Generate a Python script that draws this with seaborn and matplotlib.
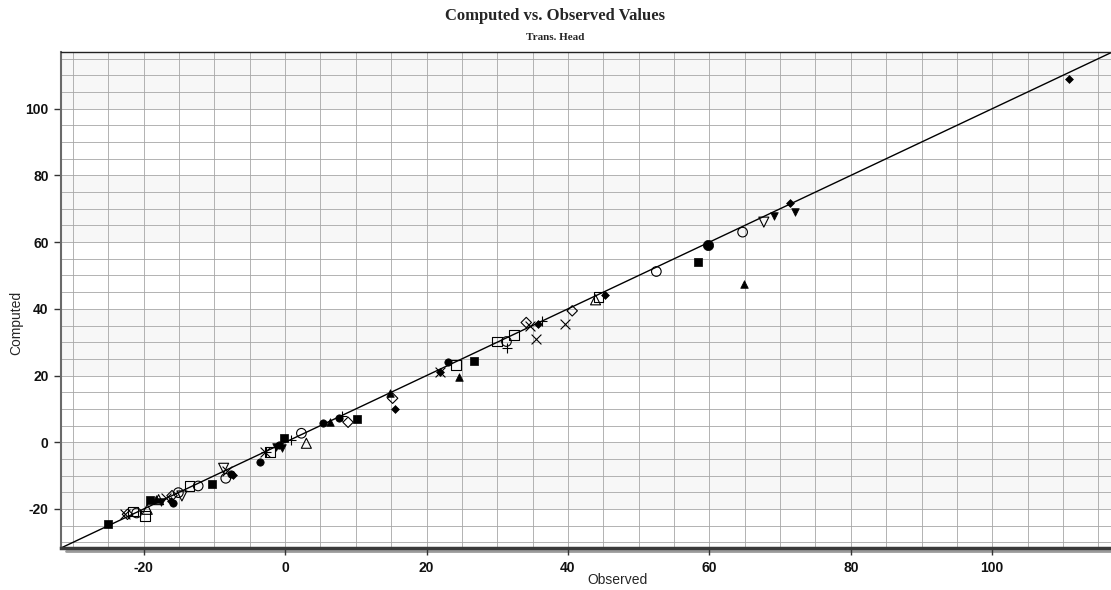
import matplotlib
matplotlib.use("Agg")
import matplotlib.pyplot as plt
from matplotlib.lines import Line2D
import seaborn as sns
import pandas as pd

# ---- data (observed, computed) per symbol group ----
filled_square_obs = [-25.0, -19.1, -10.3, -0.1, 10.1, 26.7, 58.4]
filled_square_cmp = [-24.6, -17.3, -12.6, 1.2, 6.9, 24.4, 53.9]

open_square_obs = [-21.5, -19.8, -13.5, -2.1, 24.2, 30.0, 32.4, 44.3]
open_square_cmp = [-20.8, -22.1, -13.1, -3.0, 23.2, 30.2, 32.2, 43.6]

filled_circle_obs = [-15.8, -7.6, -3.5, -0.9, 5.4, 7.6, 23.1]
filled_circle_cmp = [-18.1, -9.5, -6.0, -0.8, 5.9, 7.2, 24.2]

big_circle_obs = [59.8]
big_circle_cmp = [59.2]

open_circle_obs = [-21.0, -15.1, -12.3, -8.4, 2.3, 31.3, 52.5, 64.7]
open_circle_cmp = [-21.2, -15.1, -13.1, -10.8, 2.7, 30.2, 51.2, 63.0]

filled_tri_obs = [-18.3, 6.4, 14.9, 24.6, 64.9]
filled_tri_cmp = [-16.9, 6.2, 14.9, 19.7, 47.5]

open_tri_obs = [-19.5, -17.9, 3.0, 43.9]
open_tri_cmp = [-20.1, -17.2, -0.3, 42.7]

filled_down_obs = [-17.6, -1.3, -0.5, 69.1, 72.1]
filled_down_cmp = [-17.8, -1.3, -1.6, 67.7, 69.1]

open_down_obs = [-14.6, -8.7, 67.7]
open_down_cmp = [-16.1, -7.8, 66.0]

filled_diam_obs = [-7.4, 15.5, 21.9, 35.7, 45.2, 71.4, 110.8, -16.2]
filled_diam_cmp = [-9.8, 10.0, 21.0, 35.4, 44.1, 71.8, 108.8, -17.6]

open_diam_obs = [-22.3, -16.0, 8.9, 15.2, 34.1, 40.6]
open_diam_cmp = [-21.6, -16.0, 6.0, 13.2, 35.9, 39.4]

cross_obs = [-22.6, -8.2, -2.9, 21.9, 34.7, 35.5, 39.6, -16.8]
cross_cmp = [-21.6, -8.6, -3.0, 21.0, 34.8, 31.0, 35.4, -16.6]

plus_obs = [0.8, 8.0, 31.4, 36.3, -2.75]
plus_cmp = [0.7, 8.0, 28.2, 36.5, -3.0]

x_ticks = [-20, 0, 20, 40, 60, 80, 100]
y_ticks = [-20, 0, 20, 40, 60, 80, 100]
axis_min, x_max, y_max = -31.7, 116.8, 117.0

sns.set_style("white")
plt.rcParams['font.family'] = ['Liberation Sans', 'DejaVu Sans']

fig = plt.figure(figsize=(11.11, 5.90), dpi=100)
ax = fig.add_axes([61 / 1111, 1 - 548 / 590, 1 - 61 / 1111, (548 - 52) / 590])

# interlaced background bands
for lo in range(-20, 120, 40):
    ax.axhspan(lo, lo + 20, color='#f7f7f7', zorder=0, lw=0)

# grid every 5 units
for v in range(-30, 120, 5):
    ax.axvline(v, color='#a6a6a6', lw=0.6, zorder=1)
    ax.axhline(v, color='#a6a6a6', lw=0.6, zorder=1)

# 1:1 line
ax.plot([axis_min, 125], [axis_min, 125], color='black', lw=1.0, zorder=2)

groups = [
    (filled_square_obs, filled_square_cmp, 's', True, 26),
    (open_square_obs, open_square_cmp, 's', False, 48),
    (filled_circle_obs, filled_circle_cmp, 'o', True, 28),
    (big_circle_obs, big_circle_cmp, 'o', True, 55),
    (open_circle_obs, open_circle_cmp, 'o', False, 48),
    (filled_tri_obs, filled_tri_cmp, '^', True, 30),
    (open_tri_obs, open_tri_cmp, '^', False, 52),
    (filled_down_obs, filled_down_cmp, 'v', True, 30),
    (open_down_obs, open_down_cmp, 'v', False, 52),
    (filled_diam_obs, filled_diam_cmp, 'D', True, 16),
    (open_diam_obs, open_diam_cmp, 'D', False, 28),
    (cross_obs, cross_cmp, 'x', None, 50),
    (plus_obs, plus_cmp, '+', None, 55),
]
for obs, cmp_, mk, filled, size in groups:
    df = pd.DataFrame({'Observed': obs, 'Computed': cmp_})
    if filled is True:
        sns.scatterplot(data=df, x='Observed', y='Computed', ax=ax, marker=mk,
                        s=size, color='black', edgecolor='black', linewidth=0.5,
                        zorder=3, legend=False)
    elif filled is False:
        sns.scatterplot(data=df, x='Observed', y='Computed', ax=ax, marker=mk,
                        s=size, facecolors='none', edgecolors='black',
                        linewidth=0.8, zorder=3, legend=False)
    else:
        sns.scatterplot(data=df, x='Observed', y='Computed', ax=ax, marker=mk,
                        s=size, color='black', linewidth=0.8, zorder=3, legend=False)

ax.set_xlim(axis_min, x_max)
ax.set_ylim(axis_min, y_max)
ax.set_xticks(x_ticks)
ax.set_yticks(y_ticks)
ax.set_xticklabels([str(t) for t in x_ticks], fontweight='bold', fontsize=10)
ax.set_yticklabels([str(t) for t in y_ticks], fontweight='bold', fontsize=10)
ax.tick_params(axis='both', direction='out', length=5, width=1, color='#333333',
               pad=4, labelcolor='#111111')
ax.tick_params(axis='x', bottom=True)
ax.tick_params(axis='y', left=True)

ax.set_xlabel('')
ax.set_ylabel('')
fig.text(617 / 1111, 1 - 580 / 590, 'Observed', ha='center', va='center', fontsize=10)
fig.text(16 / 1111, 1 - 323 / 590, 'Computed', ha='center', va='center',
         fontsize=10, rotation=90)

ax.spines['right'].set_visible(False)
ax.spines['top'].set_visible(True)
ax.spines['top'].set_color('#222222')
ax.spines['top'].set_linewidth(1.0)
ax.spines['left'].set_visible(True)
ax.spines['left'].set_color('#6a6a6a')
ax.spines['left'].set_linewidth(1.5)
ax.spines['bottom'].set_visible(True)
ax.spines['bottom'].set_color('#3a3a3a')
ax.spines['bottom'].set_linewidth(2.5)

# axis shadow below the bottom axis
shadow = Line2D([0.005, 1.0], [-0.006, -0.006], transform=ax.transAxes,
                color='#9a9a9a', lw=2.0, clip_on=False, zorder=0)
ax.add_line(shadow)

fig.text(555 / 1111, 1 - 16 / 590, 'Computed vs. Observed Values',
         ha='center', va='center', fontsize=12, fontweight='bold',
         family=['Liberation Serif', 'DejaVu Serif'])
fig.text(555 / 1111, 1 - 37 / 590, 'Trans. Head',
         ha='center', va='center', fontsize=8, fontweight='bold',
         family=['Liberation Serif', 'DejaVu Serif'])

fig.savefig('out.png', dpi=100)
